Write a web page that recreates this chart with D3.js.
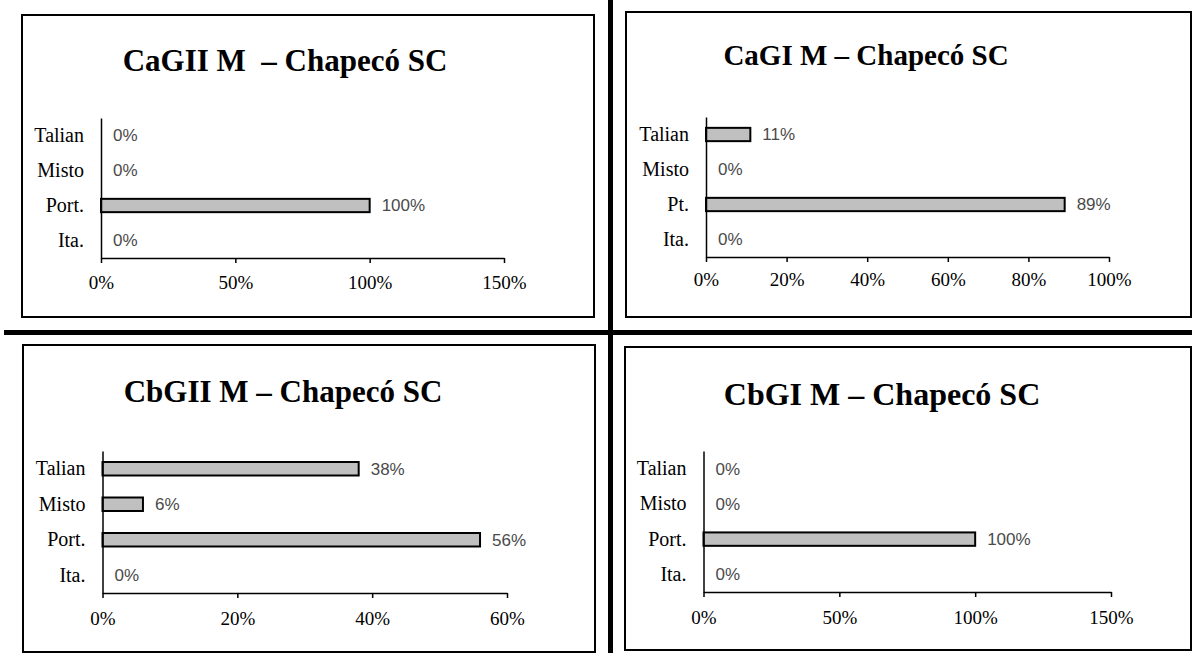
<!DOCTYPE html>
<html>
<head>
<meta charset="utf-8">
<script src="https://cdn.jsdelivr.net/npm/d3@7"></script>
<style>
  html, body { margin: 0; padding: 0; background: #fff; }
  svg { display: block; }
  .title { font-family: "Liberation Serif", "Times New Roman", serif; font-weight: bold; }
  .axis text { font-family: "Liberation Serif", "Times New Roman", serif; fill: #000; }
  .value { font-family: "Liberation Sans", Arial, sans-serif; fill: #4a4a4a; }
</style>
</head>
<body>
<svg id="chart" width="1192" height="653"></svg>
<script>
// chart values
const titles = ['CaGII M  – Chapecó SC', 'CaGI M – Chapecó SC', 'CbGII M – Chapecó SC', 'CbGI M – Chapecó SC'];
const catsCaGII = ['Talian', 'Misto', 'Port.', 'Ita.'];
const catsCaGI = ['Talian', 'Misto', 'Pt.', 'Ita.'];
const catsCbGII = ['Talian', 'Misto', 'Port.', 'Ita.'];
const catsCbGI = ['Talian', 'Misto', 'Port.', 'Ita.'];
const valsCaGII = [0, 0, 100, 0];
const valsCaGI = [11, 0, 89, 0];
const valsCbGII = [38, 6, 56, 0];
const valsCbGI = [0, 0, 100, 0];
const ticksCaGII = [0, 50, 100, 150];
const ticksCaGI = [0, 20, 40, 60, 80, 100];
const ticksCbGII = [0, 20, 40, 60];
const ticksCbGI = [0, 50, 100, 150];

// layout for each panel (box, plot area, title)
const layouts = [
  { box: [22, 15, 594, 317], x: [101, 504], y: [118, 258], tx: 285, ty: 71, ts: 31, pad: 13 },
  { box: [626, 12, 1191, 317], x: [706, 1109], y: [117, 257], tx: 866, ty: 65, ts: 29, pad: 11 },
  { box: [23, 345, 595, 652], x: [102.5, 507], y: [451, 593], tx: 283, ty: 402, ts: 31, pad: 14 },
  { box: [625, 347, 1191, 650], x: [703.5, 1111], y: [451, 592], tx: 882, ty: 405, ts: 32, pad: 14 }
];

const panels = [
  { title: titles[0], cats: catsCaGII, vals: valsCaGII, ticks: ticksCaGII },
  { title: titles[1], cats: catsCaGI, vals: valsCaGI, ticks: ticksCaGI },
  { title: titles[2], cats: catsCbGII, vals: valsCbGII, ticks: ticksCbGII },
  { title: titles[3], cats: catsCbGI, vals: valsCbGI, ticks: ticksCbGI }
];

const svg = d3.select('#chart');

// thick dividers
svg.append('rect').attr('x', 608).attr('y', 0).attr('width', 5).attr('height', 653).attr('fill', '#000');
svg.append('rect').attr('x', 4).attr('y', 330).attr('width', 1188).attr('height', 5).attr('fill', '#000');

panels.forEach((p, i) => {
  const L = layouts[i];
  const g = svg.append('g');

  g.append('rect')
    .attr('x', L.box[0]).attr('y', L.box[1])
    .attr('width', L.box[2] - L.box[0]).attr('height', L.box[3] - L.box[1])
    .attr('fill', 'none').attr('stroke', '#000').attr('stroke-width', 2);

  g.append('text').classed('title', true)
    .attr('x', L.tx).attr('y', L.ty)
    .attr('text-anchor', 'middle')
    .attr('font-size', L.ts)
    .style('white-space', 'pre')
    .text(p.title);

  const x = d3.scaleLinear()
    .domain([0, p.ticks[p.ticks.length - 1]])
    .range(L.x);
  const y = d3.scaleBand()
    .domain(p.cats)
    .range(L.y)
    .paddingInner(0.62)
    .paddingOuter(0.31);

  const data = p.cats.map((c, k) => ({ cat: c, value: p.vals[k] }));

  g.selectAll('.bar')
    .data(data.filter(d => d.value > 0))
    .enter().append('rect')
    .classed('bar', true)
    .attr('x', x(0))
    .attr('y', d => y(d.cat))
    .attr('width', d => x(d.value) - x(0))
    .attr('height', y.bandwidth())
    .attr('fill', '#c0c0c0')
    .attr('stroke', '#000')
    .attr('stroke-width', 2);

  g.selectAll('.value')
    .data(data)
    .enter().append('text')
    .classed('value', true)
    .attr('x', d => x(d.value) + 12)
    .attr('y', d => y(d.cat) + y.bandwidth() / 2)
    .attr('dy', '0.35em')
    .attr('font-size', 17)
    .text(d => d.value + '%');

  const xAxis = g.append('g').classed('axis', true)
    .attr('transform', `translate(0,${L.y[1]})`)
    .call(d3.axisBottom(x).tickValues(p.ticks).tickFormat(d => d + '%').tickSize(5).tickSizeOuter(0).tickPadding(L.pad));
  xAxis.selectAll('text').attr('font-size', 19);
  xAxis.selectAll('line, path').attr('stroke', '#000').attr('stroke-width', 1.5);

  const yAxis = g.append('g').classed('axis', true)
    .attr('transform', `translate(${L.x[0]},0)`)
    .call(d3.axisLeft(y).tickSize(0).tickPadding(17));
  yAxis.selectAll('text').attr('font-size', 20);
  yAxis.select('path').attr('stroke', '#000').attr('stroke-width', 1.5);
});
</script>
</body>
</html>
